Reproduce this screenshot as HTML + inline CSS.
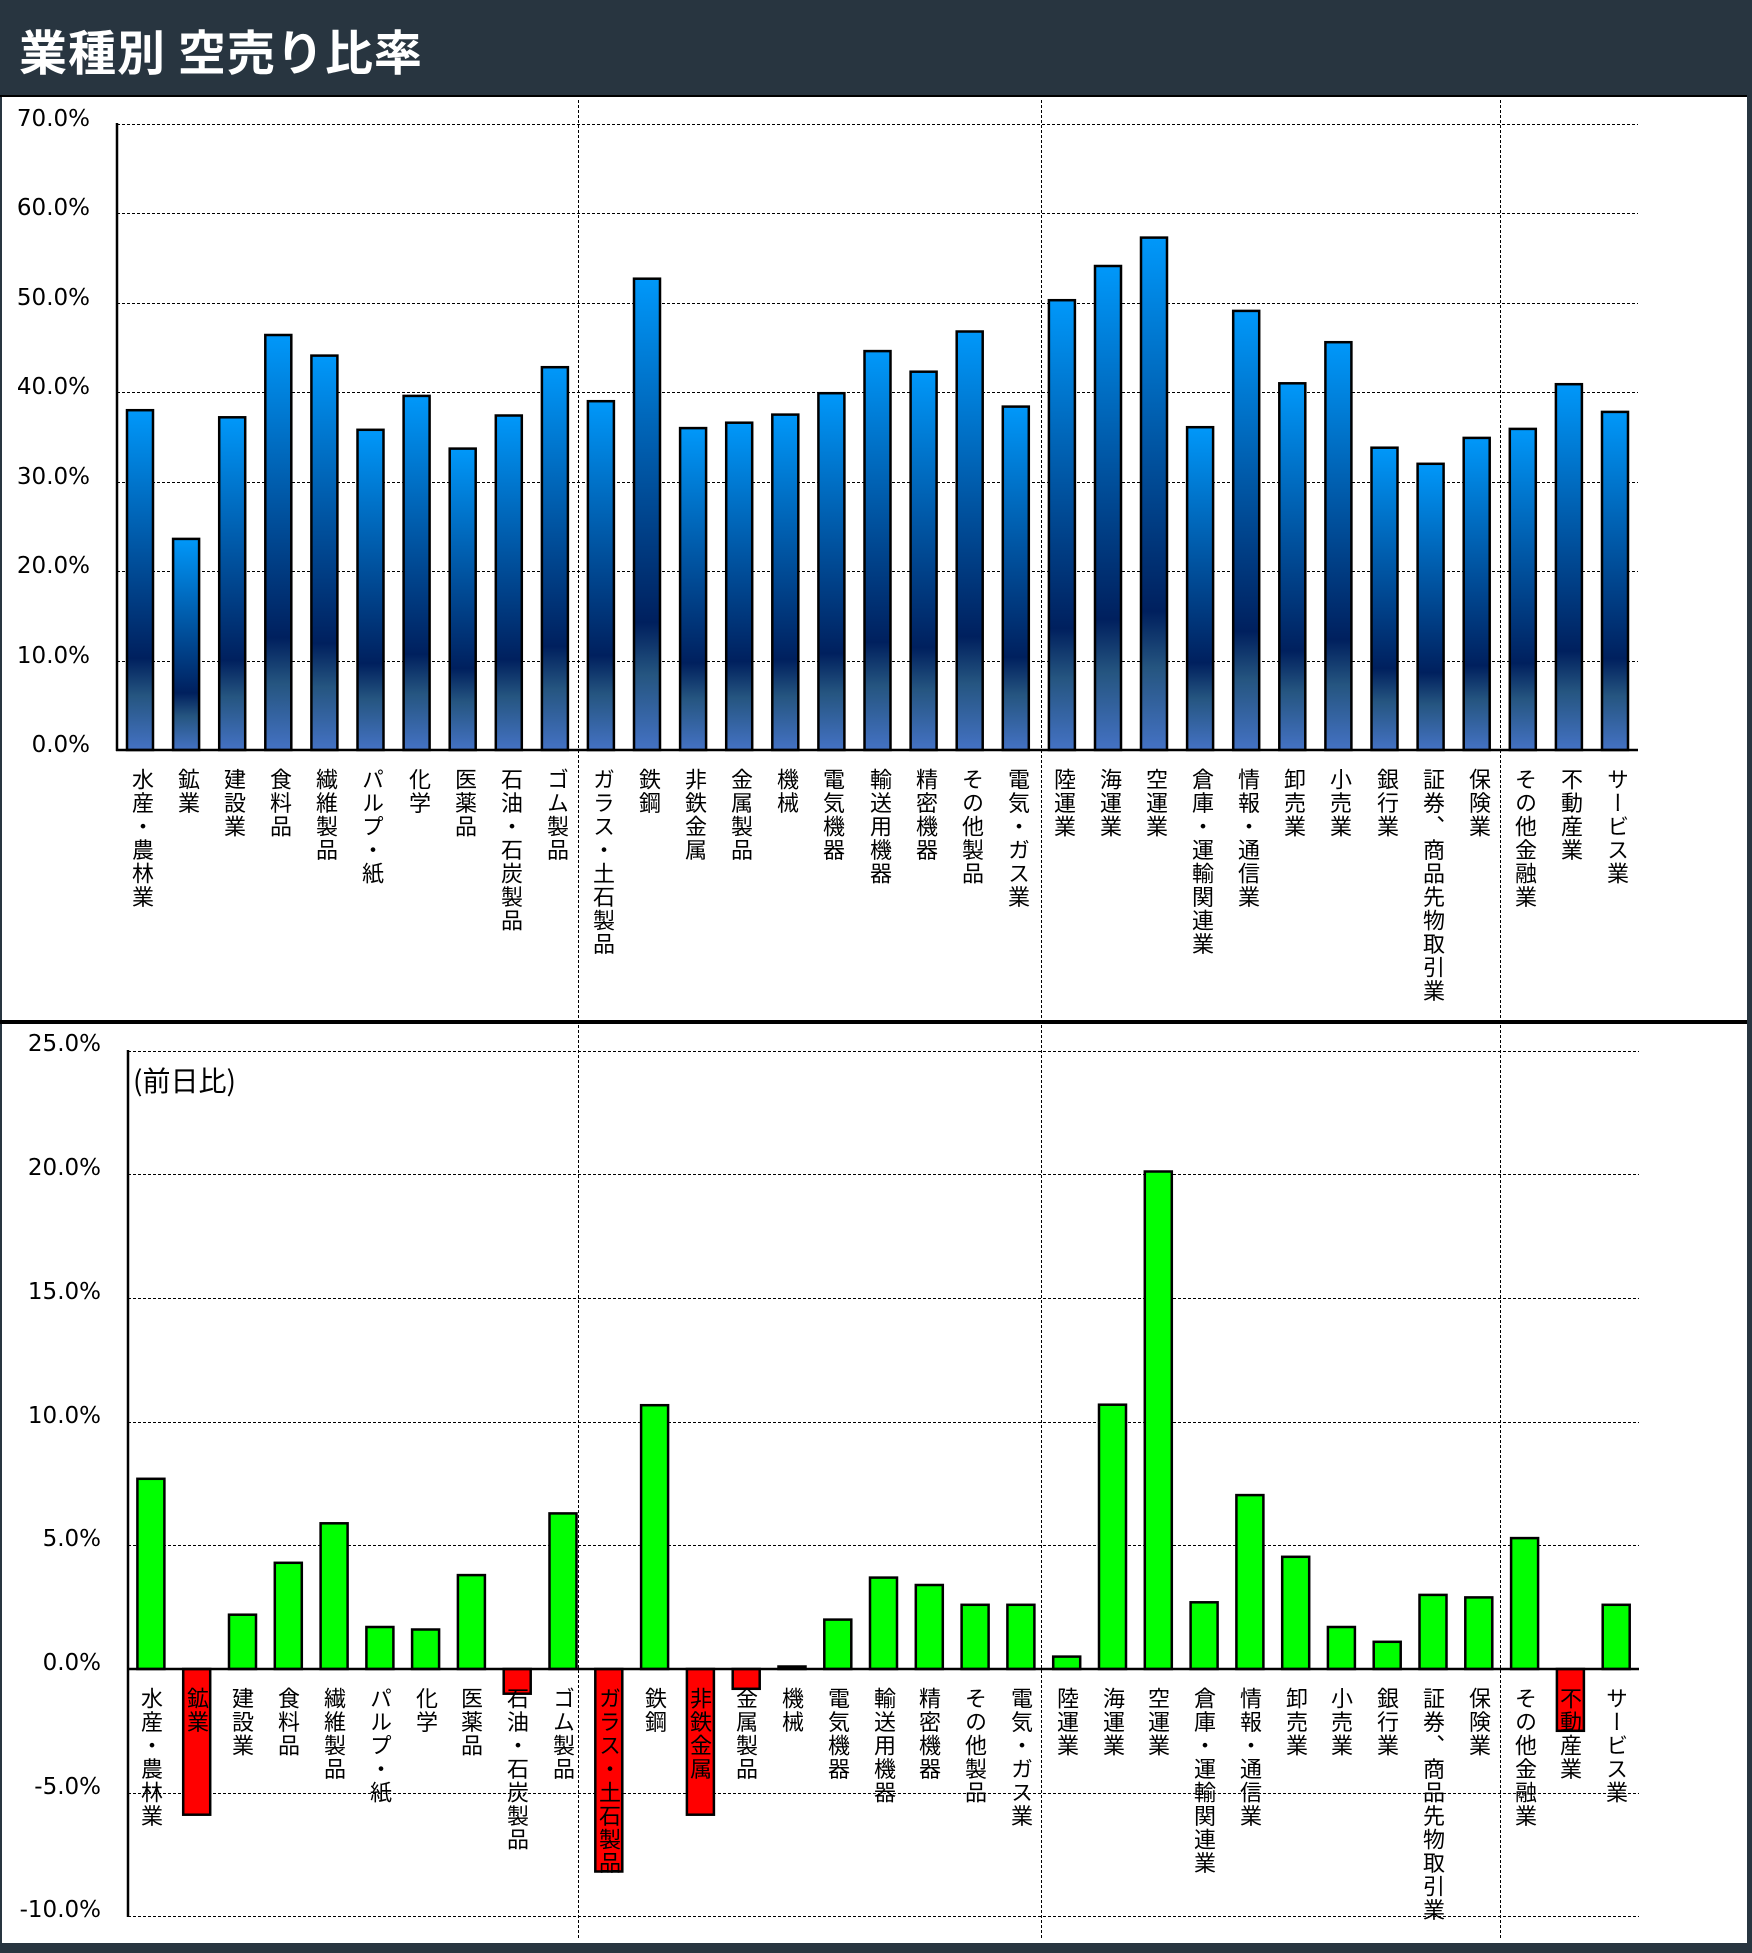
<!DOCTYPE html>
<html><head><meta charset="utf-8"><style>
body{margin:0;width:1752px;height:1953px;background:#fff;position:relative;overflow:hidden;font-family:"Liberation Sans","Noto Sans CJK JP",sans-serif;}
.hdr{position:absolute;left:0;top:0;width:1752px;height:95px;background:#283540;border-bottom:2px solid #000;}
.hdr span{position:absolute;left:19px;top:14px;font-size:48px;font-weight:bold;color:#fff;letter-spacing:1px;font-family:"Noto Sans CJK JP",sans-serif;}
.v{position:absolute;writing-mode:vertical-rl;font-size:22px;line-height:24px;width:24px;letter-spacing:1.5px;color:#000;font-family:"Noto Sans CJK JP",sans-serif;}
.t{position:absolute;font-size:23px;color:#000;text-align:right;width:90px;line-height:24px;font-family:"DejaVu Sans",sans-serif;}
</style></head><body>
<div class="hdr"><span>業種別 空売り比率</span></div>
<svg width="1752" height="1953" style="position:absolute;left:0;top:0">
<defs><linearGradient id="g" x1="0" y1="0" x2="0" y2="1">
<stop offset="0" stop-color="#4472c4"/><stop offset="0.16" stop-color="#255580"/><stop offset="0.27" stop-color="#00205e"/><stop offset="1" stop-color="#0098fa"/></linearGradient></defs>
<rect x="0" y="97" width="2" height="1850" fill="#283540"/>
<rect x="1747" y="95" width="5" height="1858" fill="#283540"/>
<rect x="0" y="1943" width="1752" height="10" fill="#283540"/>
<rect x="0" y="1020" width="1747" height="4" fill="#000"/>
<g stroke="#000" stroke-width="1" stroke-dasharray="3,2">
<line x1="117" y1="124.5" x2="1638" y2="124.5"/><line x1="117" y1="213.5" x2="1638" y2="213.5"/><line x1="117" y1="303.5" x2="1638" y2="303.5"/><line x1="117" y1="392.5" x2="1638" y2="392.5"/><line x1="117" y1="482.5" x2="1638" y2="482.5"/><line x1="117" y1="571.5" x2="1638" y2="571.5"/><line x1="117" y1="661.5" x2="1638" y2="661.5"/>
<line x1="128" y1="1051.5" x2="1639" y2="1051.5"/><line x1="128" y1="1174.5" x2="1639" y2="1174.5"/><line x1="128" y1="1298.5" x2="1639" y2="1298.5"/><line x1="128" y1="1422.5" x2="1639" y2="1422.5"/><line x1="128" y1="1545.5" x2="1639" y2="1545.5"/><line x1="128" y1="1793.5" x2="1639" y2="1793.5"/><line x1="128" y1="1916.5" x2="1639" y2="1916.5"/>
<line x1="578.5" y1="100" x2="578.5" y2="1938"/><line x1="1041.5" y1="100" x2="1041.5" y2="1938"/><line x1="1500.5" y1="100" x2="1500.5" y2="1938"/>
</g>
<g transform="translate(0,750) scale(1,-1)" fill="url(#g)" stroke="#000" stroke-width="2.5">
<rect x="127" y="0" width="26" height="339.8"/><rect x="173.1" y="0" width="26" height="211.1"/><rect x="219.2" y="0" width="26" height="332.7"/><rect x="265.3" y="0" width="26" height="415"/><rect x="311.4" y="0" width="26" height="394.4"/><rect x="357.5" y="0" width="26" height="320.2"/><rect x="403.6" y="0" width="26" height="354.1"/><rect x="449.7" y="0" width="26" height="301.4"/><rect x="495.8" y="0" width="26" height="334.5"/><rect x="541.9" y="0" width="26" height="382.8"/><rect x="587.9" y="0" width="26" height="348.8"/><rect x="634" y="0" width="26" height="471.3"/><rect x="680.1" y="0" width="26" height="321.9"/><rect x="726.2" y="0" width="26" height="327.3"/><rect x="772.3" y="0" width="26" height="335.4"/><rect x="818.4" y="0" width="26" height="356.8"/><rect x="864.5" y="0" width="26" height="398.9"/><rect x="910.6" y="0" width="26" height="378.3"/><rect x="956.7" y="0" width="26" height="418.5"/><rect x="1002.8" y="0" width="26" height="343.4"/><rect x="1048.9" y="0" width="26" height="449.8"/><rect x="1095" y="0" width="26" height="484"/><rect x="1141" y="0" width="26" height="512.4"/><rect x="1187.1" y="0" width="26" height="322.8"/><rect x="1233.2" y="0" width="26" height="439.1"/><rect x="1279.3" y="0" width="26" height="366.7"/><rect x="1325.4" y="0" width="26" height="407.8"/><rect x="1371.5" y="0" width="26" height="302.3"/><rect x="1417.6" y="0" width="26" height="286.2"/><rect x="1463.7" y="0" width="26" height="312.1"/><rect x="1509.8" y="0" width="26" height="321.1"/><rect x="1555.9" y="0" width="26" height="365.8"/><rect x="1602" y="0" width="26" height="338.1"/>
</g>
<g stroke="#000" stroke-width="2.5">
<rect x="137.4" y="1478.8" width="27" height="190.2" fill="#00ff00"/>
<rect x="183.2" y="1669" width="27" height="145.7" fill="#ff0000"/>
<rect x="229" y="1614.7" width="27" height="54.3" fill="#00ff00"/>
<rect x="274.8" y="1562.8" width="27" height="106.2" fill="#00ff00"/>
<rect x="320.6" y="1523.3" width="27" height="145.7" fill="#00ff00"/>
<rect x="366.4" y="1627" width="27" height="42" fill="#00ff00"/>
<rect x="412.1" y="1629.5" width="27" height="39.5" fill="#00ff00"/>
<rect x="457.9" y="1575.1" width="27" height="93.9" fill="#00ff00"/>
<rect x="503.7" y="1669" width="27" height="24.7" fill="#ff0000"/>
<rect x="549.5" y="1513.4" width="27" height="155.6" fill="#00ff00"/>
<rect x="595.3" y="1669" width="27" height="202.5" fill="#ff0000"/>
<rect x="641.1" y="1405.2" width="27" height="263.8" fill="#00ff00"/>
<rect x="686.9" y="1669" width="27" height="145.7" fill="#ff0000"/>
<rect x="732.7" y="1669" width="27" height="19.8" fill="#ff0000"/>
<rect x="778.5" y="1666.5" width="27" height="2.5" fill="#00ff00"/>
<rect x="824.3" y="1619.6" width="27" height="49.4" fill="#00ff00"/>
<rect x="870" y="1577.6" width="27" height="91.4" fill="#00ff00"/>
<rect x="915.8" y="1585" width="27" height="84" fill="#00ff00"/>
<rect x="961.6" y="1604.8" width="27" height="64.2" fill="#00ff00"/>
<rect x="1007.4" y="1604.8" width="27" height="64.2" fill="#00ff00"/>
<rect x="1053.2" y="1656.6" width="27" height="12.4" fill="#00ff00"/>
<rect x="1099" y="1404.7" width="27" height="264.3" fill="#00ff00"/>
<rect x="1144.8" y="1171.5" width="27" height="497.5" fill="#00ff00"/>
<rect x="1190.6" y="1602.3" width="27" height="66.7" fill="#00ff00"/>
<rect x="1236.4" y="1495.1" width="27" height="173.9" fill="#00ff00"/>
<rect x="1282.2" y="1556.8" width="27" height="112.2" fill="#00ff00"/>
<rect x="1327.9" y="1627" width="27" height="42" fill="#00ff00"/>
<rect x="1373.7" y="1641.8" width="27" height="27.2" fill="#00ff00"/>
<rect x="1419.5" y="1594.9" width="27" height="74.1" fill="#00ff00"/>
<rect x="1465.3" y="1597.4" width="27" height="71.6" fill="#00ff00"/>
<rect x="1511.1" y="1538.1" width="27" height="130.9" fill="#00ff00"/>
<rect x="1556.9" y="1669" width="27" height="61.8" fill="#ff0000"/>
<rect x="1602.7" y="1604.8" width="27" height="64.2" fill="#00ff00"/>
</g>
<g stroke="#000" stroke-width="2.5">
<line x1="117" y1="123" x2="117" y2="751"/><line x1="116" y1="750" x2="1638" y2="750"/>
<line x1="128" y1="1050" x2="128" y2="1917"/><line x1="127" y1="1669" x2="1639" y2="1669"/>
</g>
</svg>
<div class="t" style="left:0;top:107px">70.0%</div><div class="t" style="left:0;top:196px">60.0%</div><div class="t" style="left:0;top:286px">50.0%</div><div class="t" style="left:0;top:375px">40.0%</div><div class="t" style="left:0;top:465px">30.0%</div><div class="t" style="left:0;top:554px">20.0%</div><div class="t" style="left:0;top:644px">10.0%</div><div class="t" style="left:0;top:733px">0.0%</div>
<div class="t" style="left:11px;top:1032px">25.0%</div><div class="t" style="left:11px;top:1156px">20.0%</div><div class="t" style="left:11px;top:1280px">15.0%</div><div class="t" style="left:11px;top:1404px">10.0%</div><div class="t" style="left:11px;top:1527px">5.0%</div><div class="t" style="left:11px;top:1651px">0.0%</div><div class="t" style="left:11px;top:1775px">-5.0%</div><div class="t" style="left:11px;top:1898px">-10.0%</div>
<div style="position:absolute;left:133px;top:1060px;font-size:28px;font-family:'Noto Sans CJK JP',sans-serif;line-height:40px">(前日比)</div>
<div class="v" style="left:131px;top:768px">水産・農林業</div><div class="v" style="left:177px;top:768px">鉱業</div><div class="v" style="left:223px;top:768px">建設業</div><div class="v" style="left:269px;top:768px">食料品</div><div class="v" style="left:315px;top:768px">繊維製品</div><div class="v" style="left:361px;top:768px">パルプ・紙</div><div class="v" style="left:408px;top:768px">化学</div><div class="v" style="left:454px;top:768px">医薬品</div><div class="v" style="left:500px;top:768px">石油・石炭製品</div><div class="v" style="left:546px;top:768px">ゴム製品</div><div class="v" style="left:592px;top:768px">ガラス・土石製品</div><div class="v" style="left:638px;top:768px">鉄鋼</div><div class="v" style="left:684px;top:768px">非鉄金属</div><div class="v" style="left:730px;top:768px">金属製品</div><div class="v" style="left:776px;top:768px">機械</div><div class="v" style="left:822px;top:768px">電気機器</div><div class="v" style="left:869px;top:768px">輸送用機器</div><div class="v" style="left:915px;top:768px">精密機器</div><div class="v" style="left:961px;top:768px">その他製品</div><div class="v" style="left:1007px;top:768px">電気・ガス業</div><div class="v" style="left:1053px;top:768px">陸運業</div><div class="v" style="left:1099px;top:768px">海運業</div><div class="v" style="left:1145px;top:768px">空運業</div><div class="v" style="left:1191px;top:768px">倉庫・運輸関連業</div><div class="v" style="left:1237px;top:768px">情報・通信業</div><div class="v" style="left:1283px;top:768px">卸売業</div><div class="v" style="left:1329px;top:768px">小売業</div><div class="v" style="left:1376px;top:768px">銀行業</div><div class="v" style="left:1422px;top:768px">証券、商品先物取引業</div><div class="v" style="left:1468px;top:768px">保険業</div><div class="v" style="left:1514px;top:768px">その他金融業</div><div class="v" style="left:1560px;top:768px">不動産業</div><div class="v" style="left:1606px;top:768px">サービス業</div>
<div class="v" style="left:140px;top:1687px">水産・農林業</div><div class="v" style="left:186px;top:1687px">鉱業</div><div class="v" style="left:231px;top:1687px">建設業</div><div class="v" style="left:277px;top:1687px">食料品</div><div class="v" style="left:323px;top:1687px">繊維製品</div><div class="v" style="left:369px;top:1687px">パルプ・紙</div><div class="v" style="left:415px;top:1687px">化学</div><div class="v" style="left:460px;top:1687px">医薬品</div><div class="v" style="left:506px;top:1687px">石油・石炭製品</div><div class="v" style="left:552px;top:1687px">ゴム製品</div><div class="v" style="left:598px;top:1687px">ガラス・土石製品</div><div class="v" style="left:644px;top:1687px">鉄鋼</div><div class="v" style="left:689px;top:1687px">非鉄金属</div><div class="v" style="left:735px;top:1687px">金属製品</div><div class="v" style="left:781px;top:1687px">機械</div><div class="v" style="left:827px;top:1687px">電気機器</div><div class="v" style="left:873px;top:1687px">輸送用機器</div><div class="v" style="left:918px;top:1687px">精密機器</div><div class="v" style="left:964px;top:1687px">その他製品</div><div class="v" style="left:1010px;top:1687px">電気・ガス業</div><div class="v" style="left:1056px;top:1687px">陸運業</div><div class="v" style="left:1102px;top:1687px">海運業</div><div class="v" style="left:1147px;top:1687px">空運業</div><div class="v" style="left:1193px;top:1687px">倉庫・運輸関連業</div><div class="v" style="left:1239px;top:1687px">情報・通信業</div><div class="v" style="left:1285px;top:1687px">卸売業</div><div class="v" style="left:1330px;top:1687px">小売業</div><div class="v" style="left:1376px;top:1687px">銀行業</div><div class="v" style="left:1422px;top:1687px">証券、商品先物取引業</div><div class="v" style="left:1468px;top:1687px">保険業</div><div class="v" style="left:1514px;top:1687px">その他金融業</div><div class="v" style="left:1559px;top:1687px">不動産業</div><div class="v" style="left:1605px;top:1687px">サービス業</div>
</body></html>
